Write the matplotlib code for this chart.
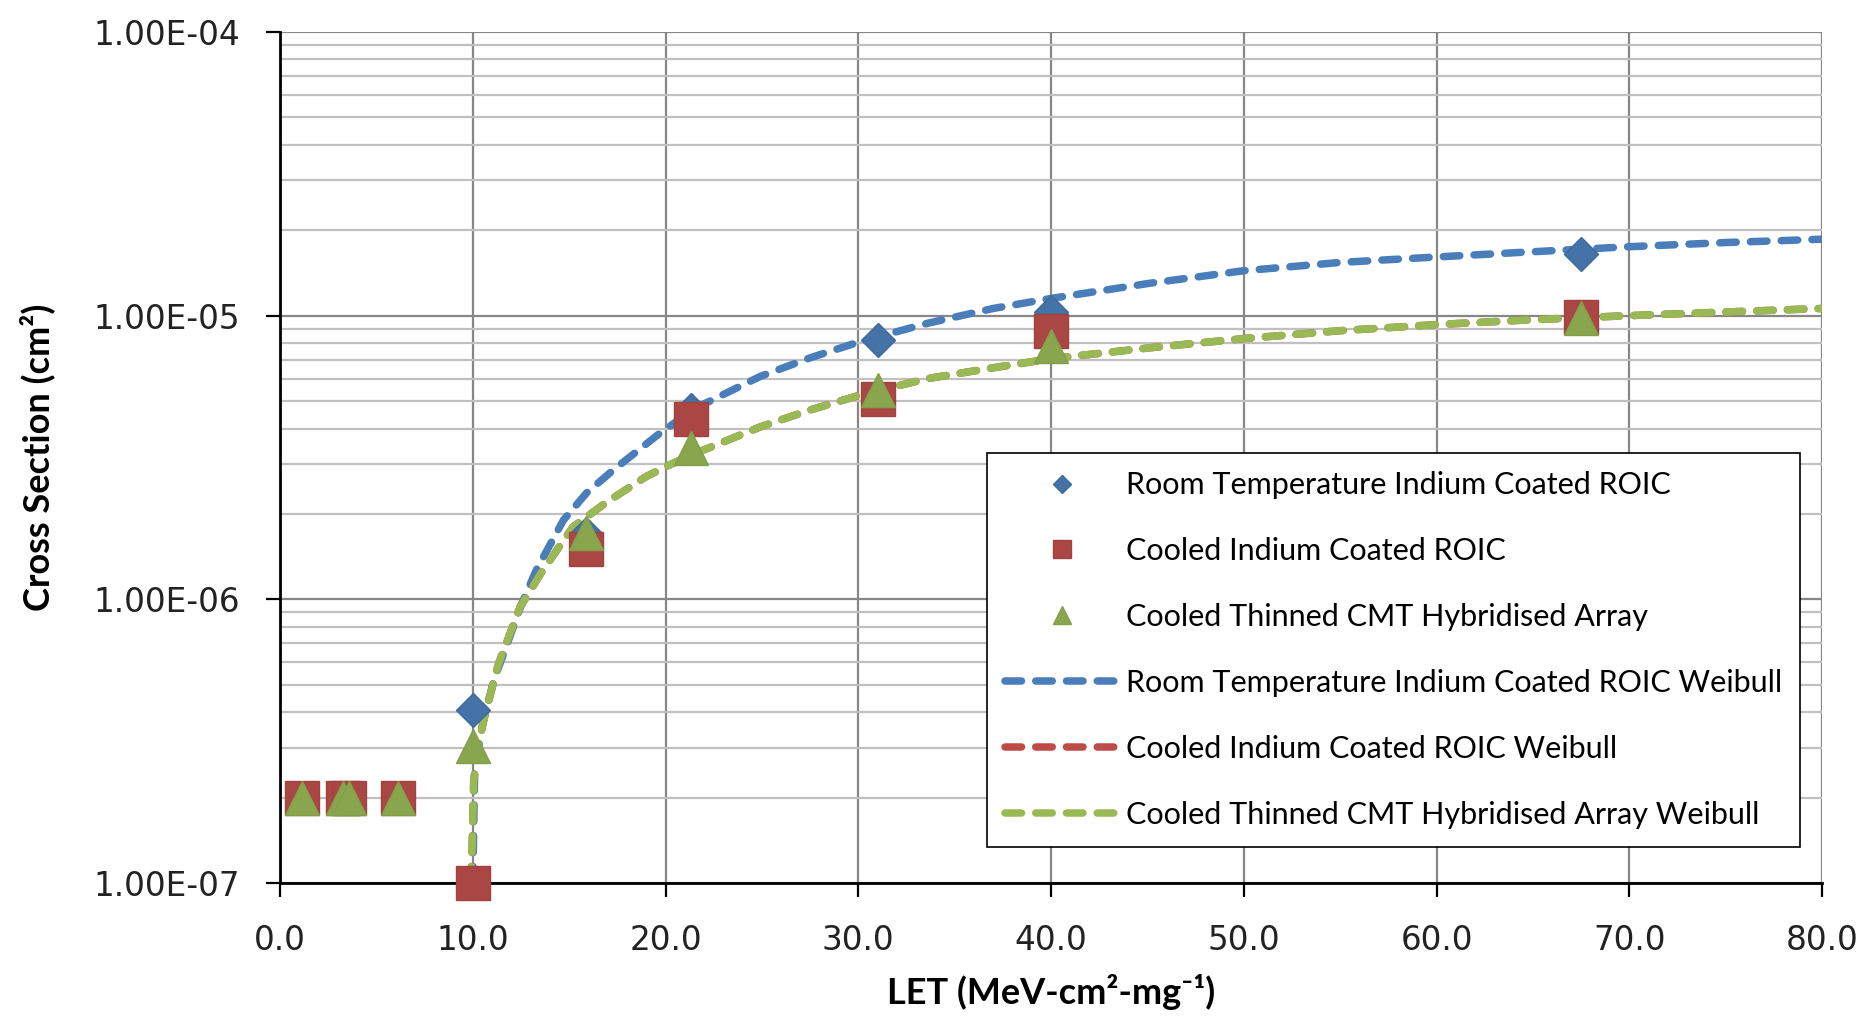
import numpy as np
import matplotlib
matplotlib.use("Agg")
import matplotlib.pyplot as plt
from matplotlib.ticker import FixedLocator, FuncFormatter, LogLocator, NullFormatter

# measured points, LET in MeV-cm2/mg, cross section in cm2
let_pts = [1.16, 3.25, 3.6, 6.14, 10.0, 15.9, 21.3, 31.0, 40.0, 67.5]
xs_room = [2e-7, 2e-7, 2e-7, 2e-7, 4.06e-7, 1.7e-6, 4.66e-6, 8.2e-6, 1.03e-5, 1.65e-5]
xs_cooled = [2e-7, 2e-7, 2e-7, 2e-7, 1.0e-7, 1.51e-6, 4.33e-6, 5.08e-6, 8.8e-6, 9.87e-6]
xs_thinned = [2e-7, 2e-7, 2e-7, 2e-7, 3.05e-7, 1.72e-6, 3.41e-6, 5.47e-6, 7.8e-6, 9.8e-6]

# Weibull fit curves
fit_room_let = [10.0, 10.1, 10.5, 11.1, 11.8, 12.5, 13.3, 14.7, 15.9, 17.3, 19.6, 21.5,
                24.9, 27.5, 30.1, 33.6, 37.0, 40.0, 45.1, 50, 55, 60, 65, 70, 75, 80]
fit_room_xs = [1.0e-7, 2.5e-7, 3.6e-7, 5.2e-7, 7.0e-7, 9.5e-7, 1.27e-6, 1.9e-6, 2.37e-6,
               2.86e-6, 3.8e-6, 4.7e-6, 6.1e-6, 7.1e-6, 8.1e-6, 9.4e-6, 1.06e-5, 1.15e-5,
               1.30e-5, 1.44e-5, 1.54e-5, 1.61e-5, 1.68e-5, 1.75e-5, 1.81e-5, 1.86e-5]
fit_thin_let = [9.9, 9.97, 10.05, 10.3, 10.66, 11.35, 12.46, 13.55, 15.2, 16.9, 19.0, 20.4,
                21.45, 24.9, 27.5, 30.1, 33.6, 37.0, 40.0, 45.1, 50, 55, 60, 65, 70, 75, 80]
fit_thin_xs = [1.0e-7, 1.34e-7, 2.3e-7, 3.1e-7, 4.0e-7, 5.96e-7, 9.4e-7, 1.24e-6, 1.8e-6,
               2.19e-6, 2.71e-6, 3.02e-6, 3.25e-6, 4.05e-6, 4.65e-6, 5.25e-6, 6.0e-6, 6.55e-6,
               7.05e-6, 7.7e-6, 8.3e-6, 8.85e-6, 9.3e-6, 9.68e-6, 1.0e-5, 1.03e-5, 1.06e-5]
# the cooled ROIC fit sits right under the thinned array fit
fit_cool_let = fit_thin_let
fit_cool_xs = fit_thin_xs

x_ticks = [0, 10, 20, 30, 40, 50, 60, 70, 80]
y_ticks = [1e-7, 1e-6, 1e-5, 1e-4]

labels = ["Room Temperature Indium Coated ROIC",
          "Cooled Indium Coated ROIC",
          "Cooled Thinned CMT Hybridised Array",
          "Room Temperature Indium Coated ROIC Weibull",
          "Cooled Indium Coated ROIC Weibull",
          "Cooled Thinned CMT Hybridised Array Weibull"]

label_font = ["Lato", "DejaVu Sans"]

fig = plt.figure(figsize=(18.63, 10.18), dpi=100)
ax = fig.add_axes([0.1503, 0.1326, 0.8277, 0.836])
ax.set_yscale("log")
ax.set_xlim(0, 80)
ax.set_ylim(1e-7, 1e-4)

dash = (0, (2.2, 1.9))
l4, = ax.plot(fit_room_let, fit_room_xs, color="#4A7EBB", lw=5.4, ls=dash,
              dash_capstyle="round", zorder=2)
l5, = ax.plot(fit_cool_let, fit_cool_xs, color="#BE4B48", lw=5.4, ls=dash,
              dash_capstyle="round", zorder=2)
l6, = ax.plot(fit_thin_let, fit_thin_xs, color="#98B954", lw=5.4, ls=dash,
              dash_capstyle="round", zorder=2)

m1, = ax.plot(let_pts, xs_room, ls="none", marker="D", ms=17.5, color="#4572A7",
              mec="#3F6A9C", zorder=3, clip_on=False)
m2, = ax.plot(let_pts, xs_cooled, ls="none", marker="s", ms=24, color="#AA4643",
              mec="#A04340", zorder=4, clip_on=False)
m3, = ax.plot(let_pts, xs_thinned, ls="none", marker="^", ms=25, color="#89A54E",
              mec="#82A04A", zorder=5, clip_on=False)

# axes, ticks, grid
ax.set_axisbelow(True)
ax.xaxis.set_major_locator(FixedLocator(x_ticks))
ax.xaxis.set_major_formatter(FuncFormatter(lambda v, p: f"{v:.1f}"))
ax.yaxis.set_major_locator(FixedLocator(y_ticks))
ax.yaxis.set_major_formatter(FuncFormatter(lambda v, p: f"{v:.2E}"))
ax.yaxis.set_minor_locator(LogLocator(base=10, subs=np.arange(2, 10)))
ax.yaxis.set_minor_formatter(NullFormatter())

ax.grid(True, which="major", axis="both", color="#878787", lw=1.6)
ax.grid(True, which="minor", axis="y", color="#C0C0C0", lw=1.6)

for s in ("top", "right"):
    ax.spines[s].set_visible(False)
for s in ("left", "bottom"):
    ax.spines[s].set_color("black")
    ax.spines[s].set_linewidth(2)

ax.tick_params(which="major", direction="out", length=10, width=1.6, color="black",
               labelsize=23.5, labelcolor="#222222")
ax.tick_params(axis="y", which="major", pad=19)
ax.tick_params(axis="x", which="major", pad=19.5)
ax.tick_params(which="minor", length=0)

ax.set_xlabel("LET (MeV-cm²-mg⁻¹)", family=label_font, fontsize=26, fontweight="bold",
              labelpad=12)
ax.set_ylabel("Cross Section (cm²)", family=label_font, fontsize=26, fontweight="bold",
              labelpad=27)

leg = ax.legend([m1, m2, m3, l4, l5, l6], labels, loc="lower right",
                bbox_to_anchor=(0.986, 0.0423), borderaxespad=0, frameon=True,
                fancybox=False, framealpha=1, edgecolor="black", markerscale=0.52,
                handlelength=3.7, handletextpad=0.25, labelspacing=1.24, borderpad=0.6,
                prop={"family": label_font, "size": 22})
leg.get_frame().set_linewidth(1.2)
leg.set_zorder(10)

fig.savefig("out.png", dpi=100)
